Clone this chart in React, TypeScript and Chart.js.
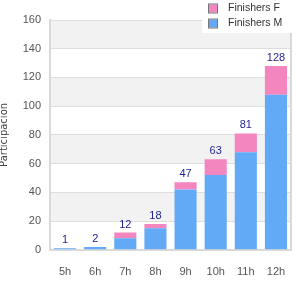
import React, { useEffect, useRef } from "react";
import { Chart, registerables } from "chart.js";

Chart.register(...registerables);

const categories = ["5h", "6h", "7h", "8h", "9h", "10h", "11h", "12h"];
const finishersM = [1, 2, 8, 15, 42, 52, 68, 108];
const finishersF = [0, 0, 4, 3, 5, 11, 13, 20];
const totals = [1, 2, 12, 18, 47, 63, 81, 128];
const yTicks = [0, 20, 40, 60, 80, 100, 120, 140, 160];
const yTitle = "Participación";
const labelM = "Finishers M";
const labelF = "Finishers F";

const FONT = "'Liberation Sans', Arial, sans-serif";
const TITLE_FONT = "'DejaVu Sans', sans-serif";

const bandsPlugin = {
  id: "bands",
  beforeDraw(chart: any) {
    const { ctx, chartArea, scales } = chart;
    const y = scales.y;
    ctx.save();
    ctx.fillStyle = "#f2f2f2";
    for (let i = 0; i < yTicks.length - 1; i++) {
      if (i % 2 === 1) {
        const top = y.getPixelForValue(yTicks[i + 1]);
        const bot = y.getPixelForValue(yTicks[i]);
        ctx.fillRect(chartArea.left, top, chartArea.right - chartArea.left, bot - top);
      }
    }
    ctx.restore();
  },
  afterDraw(chart: any) {
    const { ctx, chartArea } = chart;
    ctx.save();
    ctx.strokeStyle = "#d9d9d9";
    ctx.lineWidth = 2;
    ctx.beginPath();
    ctx.moveTo(chartArea.right, chartArea.top);
    ctx.lineTo(chartArea.right, chartArea.bottom);
    ctx.stroke();
    ctx.restore();
  },
};

const totalsPlugin = {
  id: "totals",
  afterDatasetsDraw(chart: any) {
    const { ctx } = chart;
    const n = chart.data.datasets.length;
    ctx.save();
    ctx.fillStyle = "#1f1f8f";
    ctx.font = `11px ${FONT}`;
    ctx.textAlign = "center";
    ctx.textBaseline = "alphabetic";
    totals.forEach((t, i) => {
      let topY = Infinity;
      let x = 0;
      for (let d = 0; d < n; d++) {
        const el = chart.getDatasetMeta(d).data[i];
        if (el && el.y < topY) {
          topY = el.y;
          x = el.x;
        }
      }
      ctx.fillText(String(t), x, topY - 5);
    });
    ctx.restore();
  },
};

const legendPlugin = {
  id: "customLegend",
  afterDraw(chart: any) {
    const { ctx } = chart;
    const ds = chart.data.datasets.slice().reverse();
    ctx.save();
    ctx.fillStyle = "#ffffff";
    ctx.fillRect(202, 0, 98, 33);
    ctx.font = `10.5px ${FONT}`;
    ctx.textBaseline = "middle";
    ctx.textAlign = "left";
    ds.forEach((d: any, i: number) => {
      const cy = 8.5 + i * 15;
      ctx.fillStyle = d.backgroundColor;
      ctx.fillRect(209, cy - 4, 8, 8);
      ctx.strokeStyle = "#777777";
      ctx.lineWidth = 1;
      ctx.strokeRect(208.5, cy - 4.5, 9, 9);
      ctx.fillStyle = "#333333";
      ctx.fillText(d.label, 228, cy);
    });
    ctx.restore();
  },
};

export default function App() {
  const ref = useRef<HTMLCanvasElement | null>(null);
  useEffect(() => {
    if (!ref.current) return;
    const chart = new Chart(ref.current, {
      type: "bar",
      data: {
        labels: categories,
        datasets: [
          { label: labelM, data: finishersM, backgroundColor: "#62aaf5", stack: "s" },
          { label: labelF, data: finishersF, backgroundColor: "#f385bf", stack: "s" },
        ],
      },
      options: {
        responsive: false,
        animation: false,
        layout: { padding: { top: 20, right: 9, bottom: 13, left: -2 } },
        plugins: {
          legend: { display: false },
          tooltip: { enabled: false },
        },
        datasets: { bar: { categoryPercentage: 1, barPercentage: 0.733 } },
        scales: {
          x: {
            stacked: true,
            grid: { display: false },
            border: { color: "#d9d9d9", width: 2 },
            ticks: { color: "#555555", font: { family: FONT, size: 11 }, padding: 8 },
          },
          y: {
            stacked: true,
            min: 0,
            max: 160,
            afterBuildTicks(axis: any) {
              axis.ticks = yTicks.map((v) => ({ value: v }));
            },
            afterFit(axis: any) {
              axis.width = 52;
            },
            grid: { color: "#dddddd", drawTicks: false },
            border: { color: "#d9d9d9", width: 2 },
            ticks: { color: "#555555", font: { family: FONT, size: 11 }, padding: 9 },
            title: {
              display: true,
              text: yTitle,
              color: "#444444",
              font: { family: TITLE_FONT, size: 10 },
              padding: { top: 0, bottom: 8 },
            },
          },
        },
      },
      plugins: [bandsPlugin, totalsPlugin, legendPlugin],
    });
    return () => chart.destroy();
  }, []);
  return (
    <div style={{ position: "absolute", left: 0, top: 0, width: 300, height: 300, background: "#fff" }}>
      <canvas ref={ref} width={300} height={300} style={{ display: "block" }} />
    </div>
  );
}
